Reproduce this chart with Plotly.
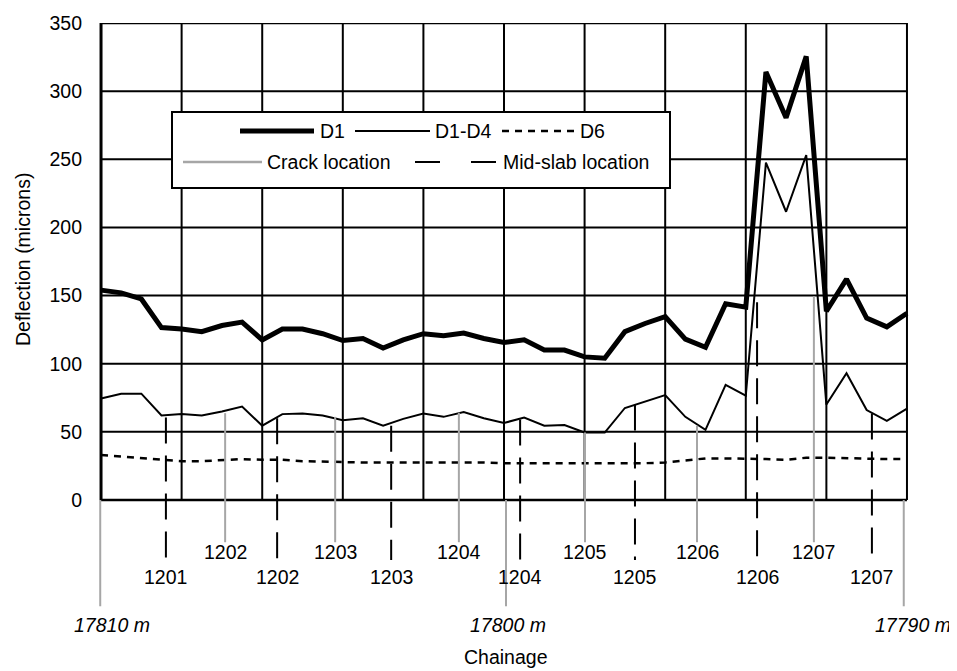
import plotly.graph_objects as go

# ---------------- data ----------------
chainage = [17810.0, 17809.5, 17809.0, 17808.5, 17808.0, 17807.5, 17807.0, 17806.5,
            17806.0, 17805.5, 17805.0, 17804.5, 17804.0, 17803.5, 17803.0, 17802.5,
            17802.0, 17801.5, 17801.0, 17800.5, 17800.0, 17799.5, 17799.0, 17798.5,
            17798.0, 17797.5, 17797.0, 17796.5, 17796.0, 17795.5, 17795.0, 17794.5,
            17794.0, 17793.5, 17793.0, 17792.5, 17792.0, 17791.5, 17791.0, 17790.5,
            17790.0]

d1 = [154, 152, 147.5, 126.5, 125.5, 123.5, 128, 130.5, 117.5, 125.5,
      125.5, 122, 117, 118.5, 111.5, 117.5, 122, 120.5, 122.5, 118.5,
      115.5, 117.5, 110, 110, 105, 104, 123.5, 129.5, 134.5, 118,
      112, 144, 141.5, 314, 280.5, 325.5, 138.5, 162, 133.5, 127, 137]

d1_d4 = [74.5, 78, 78, 62, 63, 62, 65, 68.5, 54.5, 63,
         63.5, 62, 58.5, 60, 54.5, 59.5, 63.5, 61, 64.5, 60,
         56.5, 60.5, 54.5, 55, 49.5, 49.5, 67.5, 72.5, 77, 61,
         51.5, 84.5, 76.5, 247.5, 211.5, 253, 70, 93, 66, 58, 67]

d6 = [33, 32, 31, 29.5, 28.5, 28.5, 29.5, 30, 29.5, 29.5,
      28.5, 28, 27.5, 27.5, 27.5, 27.5, 28, 28, 27.5, 27.5,
      27, 27, 27, 27, 27, 26.5, 27, 27, 27.5, 29,
      30.5, 30.5, 30.5, 30, 29.5, 31, 31, 30.5, 30.5, 30, 30]

crack_labels = ["1202", "1203", "1204", "1205", "1206", "1207"]
crack_x = [17806.92, 17804.19, 17801.12, 17797.99, 17795.21, 17792.31]
crack_top = [63.7, 61, 64, 49.5, 54.5, 149.5]
crack_bottom = -31

mid_labels = ["1201", "1202", "1203", "1204", "1205", "1206", "1207"]
mid_x = [17808.39, 17805.63, 17802.80, 17799.60, 17796.75, 17793.72, 17790.87]
mid_top = [60.5, 60, 54.5, 59, 70, 145, 63.5]
mid_bottom = -44

chain_labels = ["17810 m", "17800 m", "17790 m"]
chain_x = [17810.02, 17799.95, 17790.08]
chain_bottom = -78

y_ticks = [0, 50, 100, 150, 200, 250, 300, 350]
x_grid = [17810, 17808, 17806, 17804, 17802, 17800, 17798, 17796, 17794, 17792, 17790]

# ---------------- layout geometry ----------------
OFF = 8  # page body margin
W, H = 957 - OFF, 671 - OFF
ML, MR, MT, MB = 97 - OFF, 46, 23 - OFF, 62
PW, PH = W - ML - MR, H - MT - MB
XR = [17810.1, 17789.9]
YR = [-80, 350]

def px_x(px):
    return (px - OFF - ML) / PW

def px_y(py):
    return 1 - (py - OFF - MT) / PH

FONT = "Liberation Sans, Arial, sans-serif"
FS = 19.5

fig = go.Figure()

fig.add_trace(go.Scatter(x=chainage, y=d1, mode="lines",
                         line=dict(color="black", width=5), showlegend=False))
fig.add_trace(go.Scatter(x=chainage, y=d1_d4, mode="lines",
                         line=dict(color="black", width=2), showlegend=False))
fig.add_trace(go.Scatter(x=chainage, y=d6, mode="lines",
                         line=dict(color="black", width=2.5, dash="7px,6px"), showlegend=False))

# crack location lines
cx, cy = [], []
for x, t in zip(crack_x, crack_top):
    cx += [x, x, None]
    cy += [t, crack_bottom, None]
fig.add_trace(go.Scatter(x=cx, y=cy, mode="lines",
                         line=dict(color="#a6a6a6", width=2), showlegend=False))

# mid-slab lines
mx, my = [], []
for x, t in zip(mid_x, mid_top):
    mx += [x, x, None]
    my += [t, mid_bottom, None]
fig.add_trace(go.Scatter(x=mx, y=my, mode="lines",
                         line=dict(color="black", width=2, dash="26px,12px"), showlegend=False))

# chainage marker lines
hx, hy = [], []
for x in chain_x:
    hx += [x, x, None]
    hy += [0, chain_bottom, None]
fig.add_trace(go.Scatter(x=hx, y=hy, mode="lines",
                         line=dict(color="#a6a6a6", width=2), showlegend=False))

shapes = []
# horizontal grid
for v in y_ticks:
    w = 2.5 if v in (0, 350) else 2
    shapes.append(dict(type="line", xref="x", yref="y", x0=x_grid[0], x1=x_grid[-1],
                       y0=v, y1=v, line=dict(color="black", width=w), layer="below"))
# vertical grid
for g in x_grid:
    w = 3 if g == x_grid[0] else 2
    shapes.append(dict(type="line", xref="x", yref="y", x0=g, x1=g,
                       y0=0, y1=y_ticks[-1], line=dict(color="black", width=w), layer="below"))

# legend (manual)
shapes.append(dict(type="rect", xref="paper", yref="paper",
                   x0=px_x(172), x1=px_x(670), y0=px_y(188), y1=px_y(112),
                   line=dict(color="black", width=2), fillcolor="white", layer="above"))
r1, r2 = px_y(131), px_y(162)
shapes.append(dict(type="line", xref="paper", yref="paper", x0=px_x(240), x1=px_x(314),
                   y0=r1, y1=r1, line=dict(color="black", width=5), layer="above"))
shapes.append(dict(type="line", xref="paper", yref="paper", x0=px_x(355), x1=px_x(430),
                   y0=r1, y1=r1, line=dict(color="black", width=2), layer="above"))
shapes.append(dict(type="line", xref="paper", yref="paper", x0=px_x(502), x1=px_x(576),
                   y0=r1, y1=r1, line=dict(color="black", width=2.5, dash="7px,6px"), layer="above"))
shapes.append(dict(type="line", xref="paper", yref="paper", x0=px_x(183), x1=px_x(262),
                   y0=r2, y1=r2, line=dict(color="#a6a6a6", width=2.5), layer="above"))
shapes.append(dict(type="line", xref="paper", yref="paper", x0=px_x(415), x1=px_x(496),
                   y0=r2, y1=r2, line=dict(color="black", width=2, dash="25px,31px"), layer="above"))

annotations = []
def leg_text(txt, px, row):
    annotations.append(dict(text=txt, xref="paper", yref="paper", x=px_x(px), y=row,
                            xanchor="left", yanchor="middle", showarrow=False,
                            font=dict(family=FONT, size=FS, color="black")))
leg_text("D1", 318, r1)
leg_text("D1-D4", 433, r1)
leg_text("D6", 578, r1)
leg_text("Crack location", 265, r2)
leg_text("Mid-slab location", 501, r2)

for lab, x in zip(crack_labels, crack_x):
    annotations.append(dict(text=lab, x=x, y=-38.5, xref="x", yref="y", showarrow=False,
                            xanchor="center", yanchor="middle",
                            font=dict(family=FONT, size=FS, color="black")))
for lab, x in zip(mid_labels, mid_x):
    annotations.append(dict(text=lab, x=x, y=-56.3, xref="x", yref="y", showarrow=False,
                            xanchor="center", yanchor="middle",
                            font=dict(family=FONT, size=FS, color="black")))
for lab, x, sh in zip(chain_labels, chain_x, [12, 2, 9]):
    annotations.append(dict(text="<i>" + lab + "</i>", x=x, y=px_y(625), xref="x", yref="paper",
                            showarrow=False, xanchor="center", yanchor="middle", xshift=sh,
                            font=dict(family=FONT, size=FS, color="black")))

annotations.append(dict(text="Deflection (microns)", xref="paper", yref="paper",
                        x=px_x(23), y=px_y(260), textangle=-90, showarrow=False,
                        xanchor="center", yanchor="middle",
                        font=dict(family=FONT, size=FS, color="black")))
annotations.append(dict(text="Chainage", xref="paper", yref="paper",
                        x=px_x(505), y=px_y(657), showarrow=False,
                        xanchor="center", yanchor="middle",
                        font=dict(family=FONT, size=FS, color="black")))

fig.update_layout(
    width=W, height=H,
    margin=dict(l=ML, r=MR, t=MT, b=MB, pad=0, autoexpand=False),
    paper_bgcolor="white", plot_bgcolor="white",
    shapes=shapes, annotations=annotations,
    xaxis=dict(range=XR, showgrid=False, zeroline=False, showline=False,
               showticklabels=False, ticks="", automargin=False),
    yaxis=dict(range=YR, tickvals=y_ticks, showgrid=False, zeroline=False,
               showline=False, ticks="", ticklabelstandoff=14, automargin=False,
               tickfont=dict(family=FONT, size=FS, color="black")),
)

fig.write_html("out.html")
